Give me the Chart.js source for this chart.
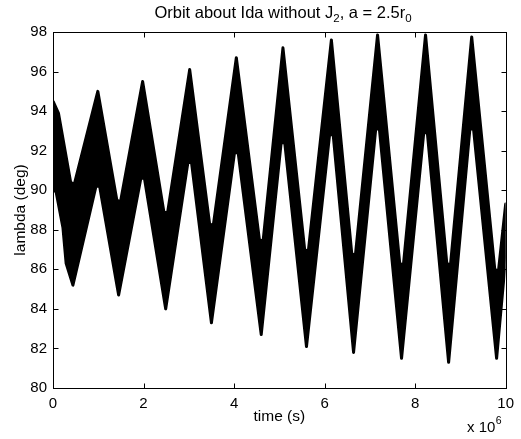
<!DOCTYPE html>
<html lang="en">

<head>
  <meta charset="UTF-8" />
  <title>Orbit about Ida without J2</title>
  <script src="https://cdn.jsdelivr.net/npm/chart.js"></script>
  <style>
    html, body { margin: 0; padding: 0; background: #fff; }
    #wrap { width: 521px; height: 439px; }
  </style>
</head>

<body>
  <div id="wrap"><canvas id="orbitChart" width="521" height="439"></canvas></div>

  <script>
    // time in units of 1e6 s, lambda in deg
    // top edge of the black band
    var upperTime = [0, 0.12, 0.39, 0.47, 0.99, 1.41, 1.49, 1.98, 2.45, 2.53, 3.02, 3.46, 3.54, 4.05, 4.56, 4.64,
      5.08, 5.56, 5.64, 6.15, 6.60, 6.68, 7.17, 7.66, 7.74, 8.23, 8.70, 8.78, 9.25, 9.76, 9.84, 10]
    var upperLambda = [94.5, 93.9, 90.4, 90.3, 95.0, 89.5, 89.4, 95.5, 88.9, 88.85, 96.1, 88.3, 88.2, 96.7, 87.5, 87.4,
      97.2, 87.0, 86.9, 97.6, 86.8, 86.7, 97.85, 86.3, 86.2, 97.85, 86.3, 86.2, 97.75, 86.0, 85.9, 89.3]

    // bottom edge of the black band
    var lowerTime = [0, 0.07, 0.22, 0.29, 0.44, 0.95, 1.03, 1.45, 1.94, 2.02, 2.49, 2.98, 3.06, 3.50, 4.01, 4.09,
      4.60, 5.04, 5.12, 5.60, 6.11, 6.19, 6.64, 7.13, 7.21, 7.70, 8.19, 8.27, 8.74, 9.21, 9.29, 9.80, 10]
    var lowerLambda = [90.1, 89.9, 88.1, 86.3, 85.2, 90.2, 90.2, 84.7, 90.6, 90.6, 84.0, 91.4, 91.4, 83.3, 91.9, 91.9,
      82.7, 92.4, 92.4, 82.1, 92.8, 92.8, 81.8, 93.1, 93.1, 81.5, 92.9, 92.9, 81.3, 93.1, 93.1, 81.5, 86.6]

    var xTicks = [0, 2, 4, 6, 8, 10]
    var yTicks = [80, 82, 84, 86, 88, 90, 92, 94, 96, 98]

    // closed outline: top edge left to right, then bottom edge back
    var band = []
    for (var i = 0; i < upperTime.length; i++) {
      band.push({ x: upperTime[i], y: upperLambda[i] })
    }
    for (var j = lowerTime.length - 1; j >= 0; j--) {
      band.push({ x: lowerTime[j], y: lowerLambda[j] })
    }

    var FONT = 'Liberation Sans, Arial, Helvetica, sans-serif'

    // box, inward ticks, title with subscripts, exponent label
    var matlabAxes = {
      id: 'matlabAxes',
      afterDraw: function (chart) {
        var ctx = chart.ctx
        var a = chart.chartArea
        var xs = chart.scales.x
        var ys = chart.scales.y
        var L = Math.round(a.left) + 0.5, R = Math.round(a.right) + 0.5
        var T = Math.round(a.top) + 0.5, B = Math.round(a.bottom) + 0.5
        var tl = 5
        ctx.save()
        ctx.strokeStyle = '#000'
        ctx.lineWidth = 1
        ctx.strokeRect(L, T, R - L, B - T)
        ctx.beginPath()
        xTicks.forEach(function (v) {
          var px = Math.round(xs.getPixelForValue(v)) + 0.5
          ctx.moveTo(px, B); ctx.lineTo(px, B - tl)
          ctx.moveTo(px, T); ctx.lineTo(px, T + tl)
        })
        yTicks.forEach(function (v) {
          var py = Math.round(ys.getPixelForValue(v)) + 0.5
          ctx.moveTo(L, py); ctx.lineTo(L + tl, py)
          ctx.moveTo(R, py); ctx.lineTo(R - tl, py)
        })
        ctx.stroke()

        // title
        ctx.fillStyle = '#000'
        ctx.textBaseline = 'alphabetic'
        ctx.textAlign = 'left'
        var big = '16.5px ' + FONT, small = '11.5px ' + FONT
        var parts = [
          ['Orbit about Ida without J', big, 0],
          ['2', small, 4],
          [', a = 2.5r', big, 0],
          ['0', small, 4]
        ]
        var w = 0
        parts.forEach(function (p) { ctx.font = p[1]; w += ctx.measureText(p[0]).width })
        var x = 283 - w / 2
        parts.forEach(function (p) {
          ctx.font = p[1]
          ctx.fillText(p[0], x, 18 + p[2])
          x += ctx.measureText(p[0]).width
        })

        // x 10^6
        ctx.font = '15px ' + FONT
        ctx.fillText('x 10', 467, 432)
        var ew = ctx.measureText('x 10').width
        ctx.font = '10.5px ' + FONT
        ctx.fillText('6', 467 + ew + 0.5, 424)
        ctx.restore()
      }
    }

    var ctx = document.getElementById('orbitChart')
    new Chart(ctx, {
      type: 'line',
      data: {
        datasets: [{
          label: 'lambda',
          data: band,
          fill: 'shape',
          backgroundColor: '#000',
          borderColor: '#000',
          borderWidth: 3,
          borderJoinStyle: 'round',
          pointRadius: 0,
          tension: 0
        }]
      },
      plugins: [matlabAxes],
      options: {
        responsive: false,
        animation: false,
        devicePixelRatio: 1,
        layout: { padding: { left: 0, right: 15, top: 32, bottom: 0 } },
        plugins: {
          legend: { display: false },
          tooltip: { enabled: false }
        },
        scales: {
          x: {
            type: 'linear',
            min: 0,
            max: 10,
            afterBuildTicks: function (s) { s.ticks = xTicks.map(function (v) { return { value: v } }) },
            afterFit: function (s) { s.height = 51 },
            grid: { display: false, drawTicks: false },
            border: { display: false },
            ticks: { color: '#000', padding: 7, font: { family: FONT, size: 15 }, maxRotation: 0, autoSkip: false },
            title: { display: true, text: 'time (s)', color: '#000', font: { family: FONT, size: 15.5 }, padding: { top: 0, bottom: 13 } }
          },
          y: {
            type: 'linear',
            min: 80,
            max: 98,
            afterBuildTicks: function (s) { s.ticks = yTicks.map(function (v) { return { value: v } }) },
            afterFit: function (s) { s.width = 53 },
            grid: { display: false, drawTicks: false },
            border: { display: false },
            ticks: { color: '#000', padding: 6, font: { family: FONT, size: 15 }, autoSkip: false },
            title: { display: true, text: 'lambda (deg)', color: '#000', font: { family: FONT, size: 15.5 }, padding: { top: 11, bottom: 0 } }
          }
        }
      }
    })
  </script>
</body>

</html>
